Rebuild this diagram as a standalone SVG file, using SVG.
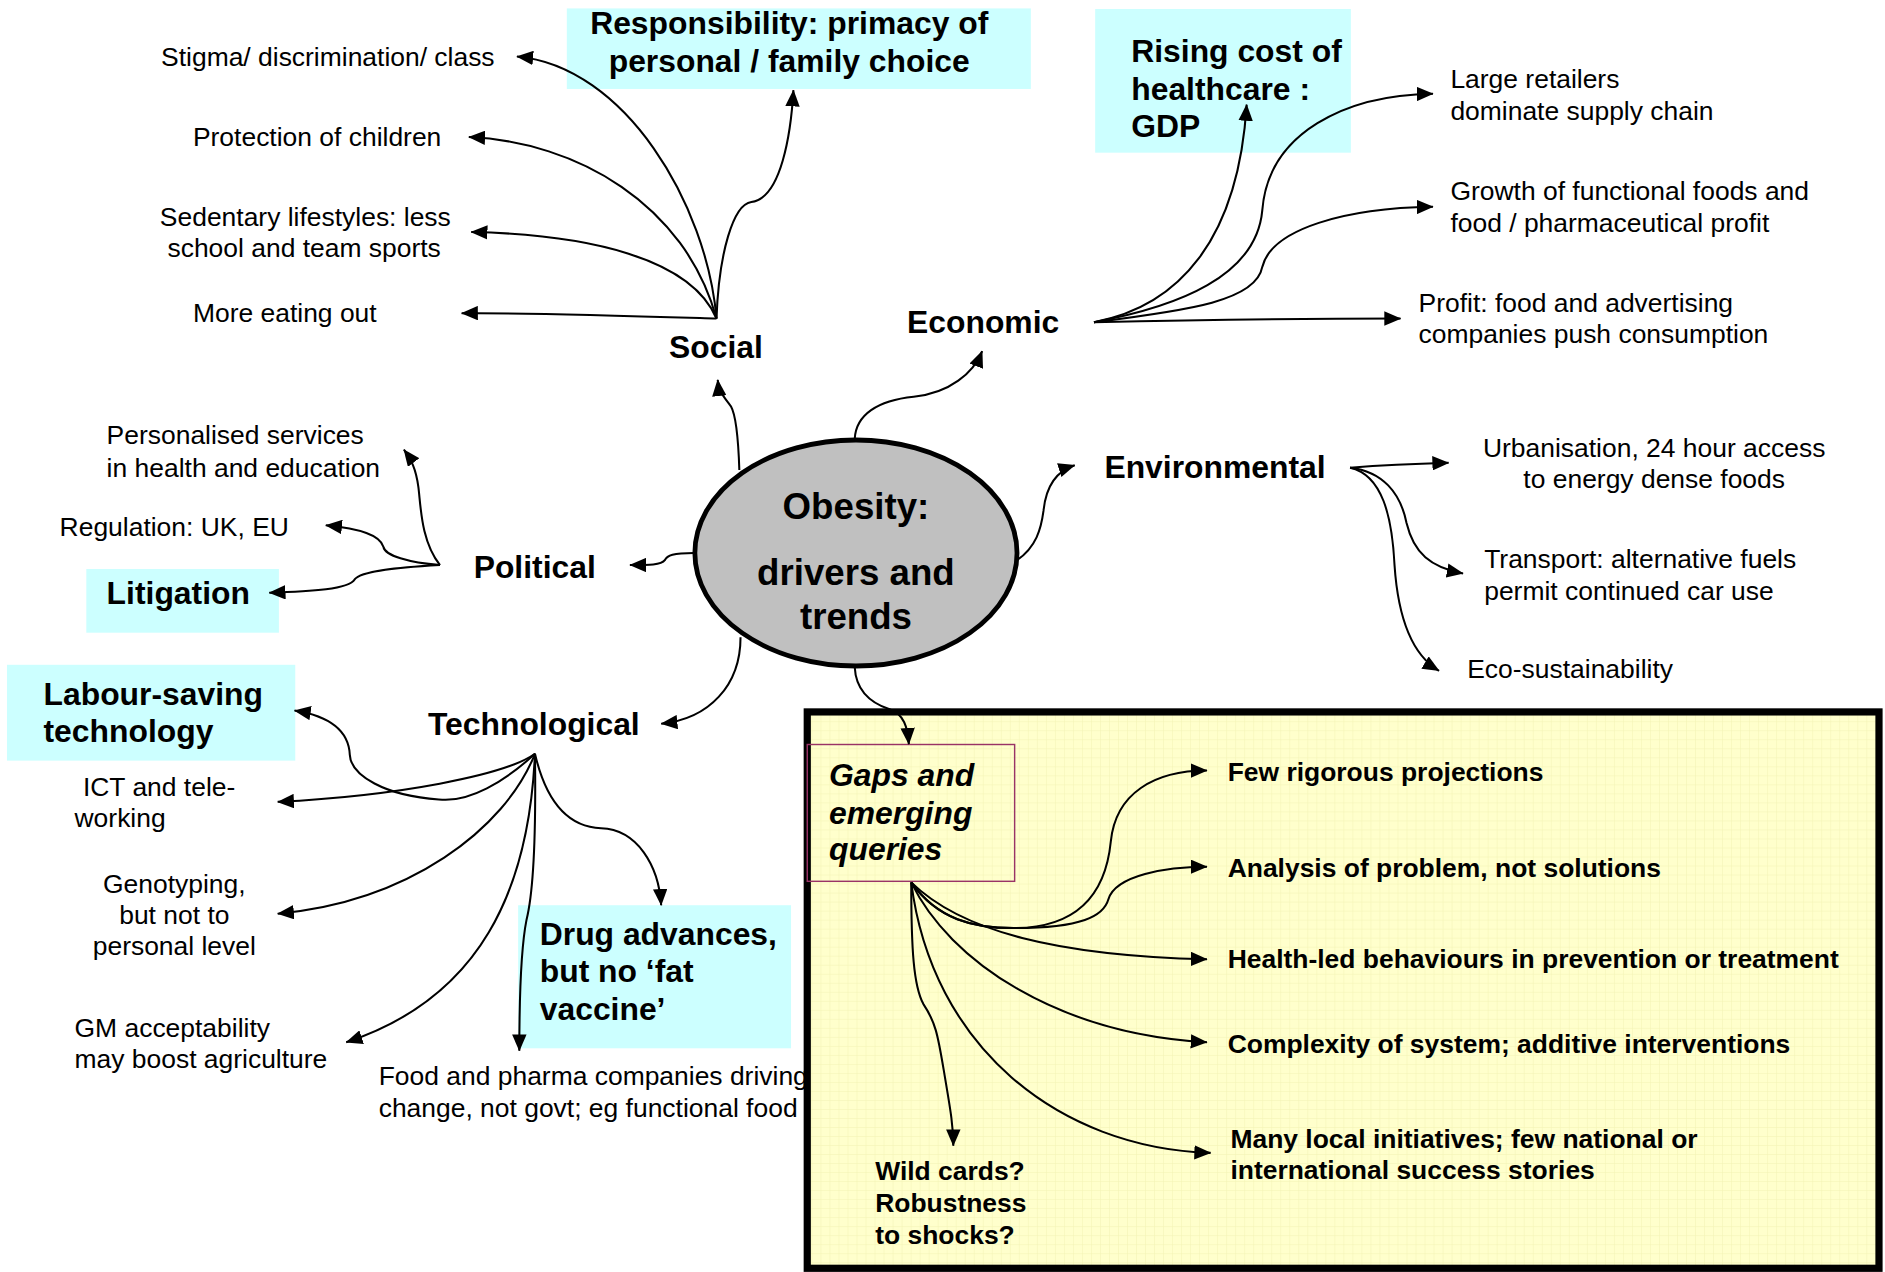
<svg xmlns="http://www.w3.org/2000/svg" width="1885" height="1272" viewBox="0 0 1885 1272">
<style>
.t{font-family:"Liberation Sans",Arial,Helvetica,sans-serif;font-size:22px;fill:#000}
.b{font-weight:bold;font-size:26.5px}
.sb{font-weight:bold;font-size:22px}
.bi{font-weight:bold;font-style:italic;font-size:26.5px}
.big{font-weight:bold;font-size:30.5px}
.c{text-anchor:middle}
.cyan{fill:#ccffff}
#connectors path{fill:none;stroke:#000;stroke-width:1.7;marker-end:url(#ah)}
</style>
<defs>
<marker id="ah" markerUnits="userSpaceOnUse" viewBox="0 0 14 12" markerWidth="14" markerHeight="12" refX="13.5" refY="6" orient="auto"><path d="M0,0 L14,6 L0,12 z" fill="#000"/></marker>
<pattern id="grid" patternUnits="userSpaceOnUse" width="7.5" height="7.5"><rect width="7.5" height="7.5" fill="#ffffcc"/><path d="M0,0.2 H7.5 M0.2,0 V7.5" stroke="#f2f2b2" stroke-width="0.5"/></pattern>
</defs>
<rect width="1885" height="1272" fill="#fff"/>
<g transform="scale(1.20217)">
<g id="node-food-pharma"><text class="t" x="315" y="902.5">Food and pharma companies driving</text><text class="t" x="315" y="929">change, not govt; eg functional food</text></g>
<g id="panel-gaps"><rect x="671.5" y="592.2" width="891.5" height="462.8" fill="url(#grid)" stroke="#000" stroke-width="6"/></g>
<g id="node-obesity"><ellipse cx="712" cy="460" rx="134" ry="94" fill="#c0c0c0" stroke="#000" stroke-width="4"/><text class="t big c" x="712" y="432">Obesity:</text><text class="t big c" x="712" y="487">drivers and</text><text class="t big c" x="712" y="523">trends</text></g>
<g id="node-social"><text class="t b c" x="595.5" y="298">Social</text></g>
<g id="node-economic"><text class="t b" x="754.5" y="277">Economic</text></g>
<g id="node-environmental"><text class="t b" x="918.7" y="398">Environmental</text></g>
<g id="node-political"><text class="t b" x="394" y="481">Political</text></g>
<g id="node-technological"><text class="t b" x="356" y="611.4">Technological</text></g>
<g id="node-stigma"><text class="t" x="134" y="55">Stigma/ discrimination/ class</text></g>
<g id="node-protection"><text class="t" x="160.5" y="121.5">Protection of children</text></g>
<g id="node-sedentary"><text class="t c" x="254" y="188">Sedentary lifestyles: less</text><text class="t c" x="253" y="214">school and team sports</text></g>
<g id="node-eating-out"><text class="t" x="160.5" y="268">More eating out</text></g>
<g id="node-responsibility"><rect class="cyan" x="471.5" y="7" width="386" height="67"/><text class="t b c" x="656.5" y="28">Responsibility: primacy of</text><text class="t b c" x="656.5" y="60">personal / family choice</text></g>
<g id="node-rising-cost"><rect class="cyan" x="911" y="7.5" width="212.7" height="119.5"/><text class="t b" x="941" y="51.5">Rising cost of</text><text class="t b" x="941" y="83">healthcare :</text><text class="t b" x="941" y="114">GDP</text></g>
<g id="node-retailers"><text class="t" x="1206.5" y="73.5">Large retailers</text><text class="t" x="1206.5" y="99.8">dominate supply chain</text></g>
<g id="node-functional"><text class="t" x="1206.5" y="166.4">Growth of functional foods and</text><text class="t" x="1206.5" y="192.7">food / pharmaceutical profit</text></g>
<g id="node-profit"><text class="t" x="1180" y="259.3">Profit: food and advertising</text><text class="t" x="1180" y="285.6">companies push consumption</text></g>
<g id="node-urbanisation"><text class="t c" x="1376" y="380">Urbanisation, 24 hour access</text><text class="t c" x="1376" y="406.2">to energy dense foods</text></g>
<g id="node-transport"><text class="t" x="1234.6" y="472.7">Transport: alternative fuels</text><text class="t" x="1234.6" y="499">permit continued car use</text></g>
<g id="node-eco"><text class="t" x="1220.5" y="564.2">Eco-sustainability</text></g>
<g id="node-personalised"><text class="t" x="88.7" y="369.6">Personalised services</text><text class="t" x="88.7" y="396.5">in health and education</text></g>
<g id="node-regulation"><text class="t" x="49.6" y="445.9">Regulation: UK, EU</text></g>
<g id="node-litigation"><rect class="cyan" x="71.8" y="473.3" width="160.2" height="53"/><text class="t b" x="88.7" y="502.4">Litigation</text></g>
<g id="node-labour"><rect class="cyan" x="5.8" y="553" width="239.8" height="79.7"/><text class="t b" x="36.2" y="586.4">Labour-saving</text><text class="t b" x="36.2" y="617">technology</text></g>
<g id="node-ict"><text class="t" x="69" y="662.5">ICT and tele-</text><text class="t" x="62" y="688">working</text></g>
<g id="node-genotyping"><text class="t c" x="145" y="743">Genotyping,</text><text class="t c" x="145" y="768.6">but not to</text><text class="t c" x="145" y="794.4">personal level</text></g>
<g id="node-gm"><text class="t" x="62" y="862.3">GM acceptability</text><text class="t" x="62" y="888.7">may boost agriculture</text></g>
<g id="node-drug"><rect class="cyan" x="431" y="753" width="227" height="119"/><text class="t b" x="449" y="786">Drug advances,</text><text class="t b" x="449" y="817">but no ‘fat</text><text class="t b" x="449" y="848.5">vaccine’</text></g>
<g id="node-gaps"><rect x="671.5" y="619.3" width="172.5" height="113.8" fill="none" stroke="#993366" stroke-width="1.2"/><text class="t bi" x="689.6" y="653.6">Gaps and</text><text class="t bi" x="689.6" y="685.4">emerging</text><text class="t bi" x="689.6" y="715.8">queries</text></g>
<g id="node-projections"><text class="t sb" x="1021.2" y="649.7">Few rigorous projections</text></g>
<g id="node-analysis"><text class="t sb" x="1021.2" y="729.5">Analysis of problem, not solutions</text></g>
<g id="node-health-led"><text class="t sb" x="1021.2" y="805.4">Health-led behaviours in prevention or treatment</text></g>
<g id="node-complexity"><text class="t sb" x="1021.2" y="876">Complexity of system; additive interventions</text></g>
<g id="node-local"><text class="t sb" x="1023.5" y="955">Many local initiatives; few national or</text><text class="t sb" x="1023.5" y="980.7">international success stories</text></g>
<g id="node-wildcards"><text class="t sb" x="728" y="981.4">Wild cards?</text><text class="t sb" x="728" y="1008.1">Robustness</text><text class="t sb" x="728" y="1034.4">to shocks?</text></g>
<g id="connectors">
<path d="M596,265 C588,170 520,55 430,47"/>
<path d="M596,265 C570,170 480,118 390,114"/>
<path d="M596,265 C575,215 490,195 392,193"/>
<path d="M596,265 C500,262 440,260 384,260.6"/>
<path d="M596,265 C598,210 610,170 625,168 C650,165 658,110 660,75"/>
<path d="M615,391 C614,360 612,345 608,338 C602,330 598,326 597,316"/>
<path d="M711,365 C712,345 730,333 760,330 C790,327 810,310 817,292"/>
<path d="M846,466 C862,455 866,440 868,425 C870,405 878,392 894,387"/>
<path d="M577,460 C560,460 555,462 553,466 C550,470 540,470 524,470"/>
<path d="M616,530 C616,570 590,598 550,602"/>
<path d="M711,555 C712,575 725,585 740,590 C752,594 755,605 756,619"/>
<path d="M910,268 C980,255 1030,200 1037,87"/>
<path d="M910,268 C980,255 1045,230 1050,175 C1055,110 1120,79 1192,78"/>
<path d="M910,268 C990,258 1045,250 1050,222 C1058,190 1120,173 1192,172"/>
<path d="M910,268 C1000,266 1080,265 1165,265"/>
<path d="M1123,389 C1150,387 1170,386 1205,385"/>
<path d="M1123,389 C1150,392 1165,410 1170,435 C1176,460 1190,472 1217,477"/>
<path d="M1123,389 C1150,395 1158,430 1160,470 C1163,515 1175,545 1197,558"/>
<path d="M366,470 C350,450 350,420 348,405 C346,390 342,382 336,374"/>
<path d="M366,470 C340,468 320,462 319,455 C316,445 300,440 271,437"/>
<path d="M366,470 C330,472 300,475 295,482 C290,490 260,492 224,493"/>
<path d="M445,627 C420,650 390,668 365,665 C320,662 292,645 291,628 C290,605 270,595 245,591"/>
<path d="M445,627 C420,645 330,662 231,667"/>
<path d="M445,627 C420,690 340,750 231,760"/>
<path d="M445,627 C440,740 400,830 288,867"/>
<path d="M445,627 C446,700 443,745 438,765 C434,785 432,830 432,874"/>
<path d="M445,627 C455,670 475,688 500,689 C530,690 548,720 550,753"/>
<path d="M758,734 C780,765 810,772 843,772 C900,772 920,740 924,700 C928,660 960,641 1004,641"/>
<path d="M758,734 C780,765 810,772 843,772 C900,772 918,762 922,748 C928,728 970,721 1004,721"/>
<path d="M758,734 C800,775 880,795 1004,798"/>
<path d="M758,734 C790,800 880,860 1004,867"/>
<path d="M758,734 C775,870 880,955 1007,959"/>
<path d="M758,734 C758,790 760,820 768,835 C778,850 780,860 785,890 C790,920 793,935 793,953"/>
</g>
</g>
</svg>
